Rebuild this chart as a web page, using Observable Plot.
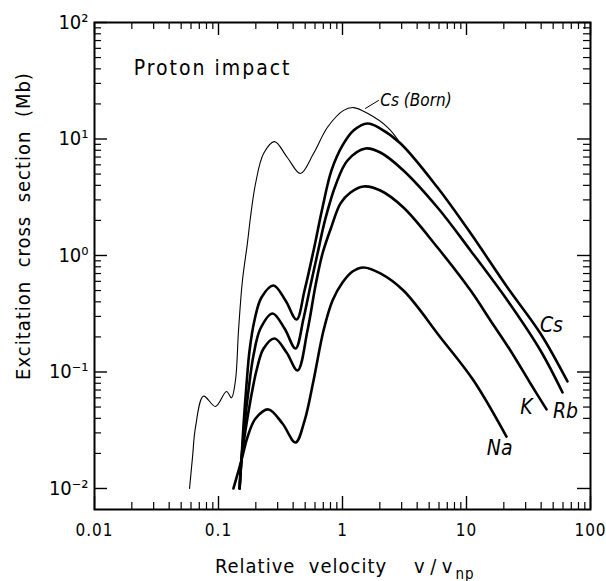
<!DOCTYPE html>
<html><head><meta charset="utf-8">
<script src="https://cdn.jsdelivr.net/npm/d3@7"></script>
<script src="https://cdn.jsdelivr.net/npm/@observablehq/plot@0.6"></script>
<style>
html,body{margin:0;padding:0;background:#fff;}
svg text{font-family:"DejaVu Sans Condensed","DejaVu Sans",sans-serif;}
g[aria-description="title"] text{letter-spacing:2px;}
g[aria-description="ylabel"] text{letter-spacing:1px;}
g[aria-description="xlabel"] text{letter-spacing:1px;}
g[aria-description="xticks"] text{letter-spacing:1px;}
</style></head><body><div id="chart"></div><script>
// ---- data ----
const bornV = [0.0584,0.0617,0.0652,0.0757,0.0946,0.116,0.127,0.137,0.145,0.156,0.171,0.181,0.199,0.231,0.283,0.360,0.458,0.584,0.757,1.02,1.23,1.59,2.31,2.94];
const bornS = [0.010,0.0185,0.0334,0.062,0.0506,0.068,0.060,0.0845,0.227,0.61,1.27,2.12,4.15,7.5,9.5,6.9,5.06,7.5,12.6,17.6,18.6,16.6,12.6,9.15];
const csV = [0.148,0.153,0.159,0.168,0.178,0.195,0.222,0.278,0.347,0.426,0.494,0.584,0.690,0.815,1.0,1.227,1.59,2.02,2.94,5.84,10.8,21.4,39.5,65.2];
const csS = [0.010,0.0174,0.0347,0.0766,0.153,0.277,0.436,0.553,0.411,0.282,0.50,1.10,2.58,5.37,8.80,11.83,13.6,12.3,9.15,3.83,1.55,0.531,0.214,0.0829];
const rbV = [0.148,0.153,0.162,0.1745,0.1915,0.218,0.273,0.341,0.418,0.485,0.552,0.629,0.729,0.878,1.097,1.533,2.02,3.10,5.84,10.8,21.4,39.5,59.5];
const rbS = [0.010,0.0174,0.0347,0.0694,0.139,0.236,0.318,0.236,0.159,0.288,0.553,1.04,2.08,3.99,6.54,8.29,7.66,5.37,2.58,1.10,0.411,0.153,0.0667];
const kV = [0.148,0.153,0.165,0.181,0.2025,0.231,0.283,0.354,0.434,0.522,0.606,0.690,0.815,0.964,1.16,1.48,2.02,3.10,5.84,10.8,15.6,22.6,32.8,44.2];
const kS = [0.010,0.0174,0.0315,0.0569,0.103,0.159,0.194,0.147,0.103,0.227,0.553,1.04,1.77,2.80,3.47,3.91,3.61,2.58,1.17,0.50,0.277,0.153,0.0797,0.0477];
const naV = [0.132,0.153,0.171,0.199,0.253,0.328,0.418,0.494,0.584,0.703,0.831,1.0,1.204,1.477,2.02,3.10,6.17,11.4,21.0];
const naS = [0.010,0.0174,0.0274,0.0399,0.0477,0.0361,0.0248,0.038,0.0845,0.227,0.411,0.586,0.729,0.789,0.701,0.50,0.198,0.0845,0.0279];

const seriesNames = ["Cs","Rb","K","Na"];
const labelV = [48.4, 62.9, 30.5, 18.5];
const labelS = [0.251, 0.0458, 0.0496, 0.0220];
const bornLabel = "Cs (Born)";
const bornLabelV = 2.02, bornLabelS = 21.4;
const leaderV = [1.53, 1.95], leaderS = [18.3, 21.4];
const titleText = "Proton impact";
const titleV = 0.0207, titleS = 40.3;

const xMajor = [0.01, 0.1, 1, 10, 100];
const xTickLabels = ["0.01", "0.1", "1", "10", "100"];
const yMajor = [0.01, 0.1, 1, 10, 100];
const yTickLabels = ["10\u207B\u00B2", "10\u207B\u00B9", "10\u2070", "10\u00B9", "10\u00B2"];
const minorMult = [2,3,4,5,6,7,8,9];
const xLabelMain = "Relative\u00A0\u00A0velocity\u00A0\u00A0\u00A0\u00A0v\u2009/\u2009v";
const xLabelSub = "np";
const yLabelText = "Excitation\u00A0\u00A0cross\u00A0\u00A0section\u00A0\u00A0(Mb)";

// ---- build tables ----
const toRows = (name, V, S) => V.map((v, i) => ({name, v, s: S[i]}));
const thick = [
  ...toRows("Cs", csV, csS), ...toRows("Rb", rbV, rbS),
  ...toRows("K", kV, kS), ...toRows("Na", naV, naS)
];
const born = toRows("Born", bornV, bornS);
const labels = seriesNames.map((n, i) => ({n, v: labelV[i], s: labelS[i]}));
const xMinor = [0.01, 0.1, 1, 10].flatMap(d => minorMult.map(m => +(d*m).toPrecision(3)));
const yMinor = [0.01, 0.1, 1, 10].flatMap(d => minorMult.map(m => +(d*m).toPrecision(3)));
const xFmt = new Map(xMajor.map((d, i) => [d, xTickLabels[i]]));
const yFmt = new Map(yMajor.map((d, i) => [d, yTickLabels[i]]));

const W = 606, H = 581, mL = 94, mR = 16, mT = 22, mB = 72;
const fw = W - mL - mR, fh = H - mT - mB;
const majLen = 13, minLen = 7;

const chart = Plot.plot({
  width: W, height: H,
  marginLeft: mL, marginRight: mR, marginTop: mT, marginBottom: mB,
  x: {type: "log", domain: [0.01, 100]},
  y: {type: "log", domain: [0.0066, 100]},
  style: {background: "#fff", color: "#000", fontFamily: "'DejaVu Sans Condensed','DejaVu Sans',sans-serif"},
  marks: [
    Plot.axisX({ticks: xMajor, tickSize: 0, tickPadding: 14, tickFormat: d => xFmt.get(d), fontSize: 17, label: null, ariaDescription: "xticks"}),
    Plot.axisY({ticks: yMajor, tickSize: 0, tickPadding: 6, tickFormat: d => yFmt.get(d), fontSize: 20, label: null}),
    // inward ticks on all four sides
    Plot.ruleX(xMajor, {insetTop: fh - majLen, strokeWidth: 1.4}),
    Plot.ruleX(xMinor, {insetTop: fh - minLen, strokeWidth: 1.2}),
    Plot.ruleX(xMajor, {insetBottom: fh - majLen, strokeWidth: 1.4}),
    Plot.ruleX(xMinor, {insetBottom: fh - minLen, strokeWidth: 1.2}),
    Plot.ruleY(yMajor, {insetRight: fw - majLen, strokeWidth: 1.4}),
    Plot.ruleY(yMinor, {insetRight: fw - minLen, strokeWidth: 1.2}),
    Plot.ruleY(yMajor, {insetLeft: fw - majLen, strokeWidth: 1.4}),
    Plot.ruleY(yMinor, {insetLeft: fw - minLen, strokeWidth: 1.2}),
    Plot.frame({strokeWidth: 2}),
    Plot.line(born, {x: "v", y: "s", curve: "catmull-rom", stroke: "#000", strokeWidth: 1.1}),
    Plot.line(thick, {x: "v", y: "s", z: "name", curve: "catmull-rom", stroke: "#000", strokeWidth: 2.6}),
    Plot.line(leaderV.map((v, i) => ({v, s: leaderS[i]})), {x: "v", y: "s", stroke: "#000", strokeWidth: 1}),
    Plot.text([bornLabel], {x: () => bornLabelV, y: () => bornLabelS, text: d => d, textAnchor: "start", fontSize: 17, fontStyle: "italic"}),
    Plot.text(labels, {x: "v", y: "s", text: "n", fontSize: 21, fontStyle: "italic"}),
    Plot.text([titleText], {x: () => titleV, y: () => titleS, text: d => d, textAnchor: "start", fontSize: 21, ariaDescription: "title"}),
    Plot.text([xLabelMain], {frameAnchor: "bottom", text: d => d, textAnchor: "end", dx: 111, dy: 63, fontSize: 20, ariaDescription: "xlabel"}),
    Plot.text([xLabelSub], {frameAnchor: "bottom", text: d => d, textAnchor: "start", dx: 113, dy: 69, fontSize: 15, ariaDescription: "xlabel"}),
    Plot.text([yLabelText], {frameAnchor: "left", text: d => d, textAnchor: "middle", rotate: -90, dx: -71, dy: -40, fontSize: 20, ariaDescription: "ylabel"})
  ]
});
document.getElementById("chart").appendChild(chart);
</script></body></html>
